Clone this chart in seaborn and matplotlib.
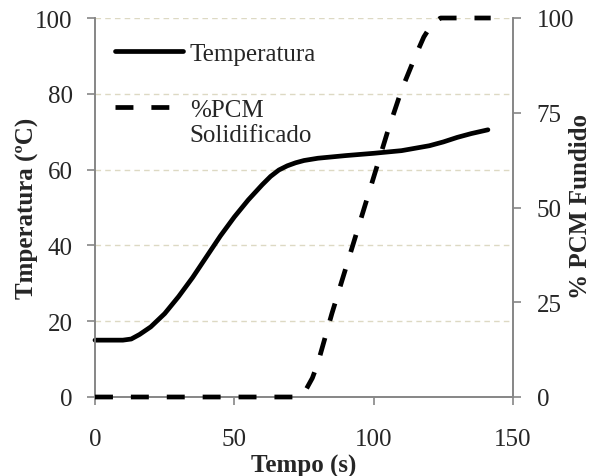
import numpy as np
import pandas as pd
import seaborn as sns
import matplotlib.pyplot as plt
from matplotlib.legend_handler import HandlerLine2D

# data
tempo_temp = [0, 5, 10, 13, 16, 20, 25, 30, 35, 40, 45, 50, 55, 60, 63, 66, 69, 72, 75, 80, 90, 100, 110, 120, 125, 130, 135, 141]
temperatura = [15, 15, 15, 15.3, 16.5, 18.5, 22, 26.5, 31.5, 37, 42.5, 47.5, 52, 56, 58.2, 59.9, 61.0, 61.8, 62.4, 63, 63.7, 64.3, 65, 66.3, 67.3, 68.5, 69.5, 70.5]

tempo_pcm = [0, 72, 75, 78, 80, 85, 90, 95, 100, 105, 110, 115, 118, 121, 124, 127, 142]
pcm = [0, 0, 1, 5, 9, 22, 34, 46, 58, 70, 81, 90, 95, 98.5, 100, 100, 100]

left_ticks = [0, 20, 40, 60, 80, 100]
right_ticks = [0, 25, 50, 75, 100]
x_ticks = [0, 50, 100, 150]


class RaisedLine(HandlerLine2D):
    # put the legend line next to the first line of a two-line label
    def __init__(self, dy, **kw):
        super().__init__(**kw)
        self.dy = dy

    def create_artists(self, legend, orig_handle, xdescent, ydescent, width,
                       height, fontsize, trans):
        return super().create_artists(legend, orig_handle, xdescent,
                                      ydescent - 2 * self.dy, width, height,
                                      fontsize, trans)


sns.set_style("white")
plt.rcParams['font.family'] = ['Liberation Serif', 'DejaVu Serif']

spine_col = '#868686'
grid_col = '#ddd9c3'
fs = 18

fig = plt.figure(figsize=(5.91, 4.77), dpi=100)
ax = fig.add_axes([95/591, 79/477, 418/591, 379/477])
ax2 = ax.twinx()

df_t = pd.DataFrame({'Tempo': tempo_temp, 'Temp': temperatura})
df_p = pd.DataFrame({'Tempo': tempo_pcm, 'PCM': pcm})

sns.lineplot(data=df_t, x='Tempo', y='Temp', ax=ax, color='black', lw=3.4,
             label='Temperatura', legend=False, clip_on=False, zorder=5)
sns.lineplot(data=df_p, x='Tempo', y='PCM', ax=ax2, color='black', lw=3.4,
             linestyle=(0, (3.8, 3.8)), label='%PCM\nSolidificado', legend=False,
             clip_on=False, zorder=5)

ax.set_xlim(0, 150)
ax.set_ylim(0, 100)
ax2.set_ylim(0, 100)
ax.set_xticks(x_ticks)
ax.set_yticks(left_ticks)
ax2.set_yticks(right_ticks)

# grid from the left axis only
for v in left_ticks[1:]:
    ax.axhline(v, color=grid_col, lw=1, ls=(0, (4, 3)), zorder=0)

for a in (ax, ax2):
    for s in a.spines.values():
        s.set_color(spine_col)
        s.set_linewidth(1.2)
    a.spines['top'].set_visible(False)

ax.tick_params(axis='x', direction='out', length=6, width=1.2, color=spine_col,
               labelsize=fs, pad=16, bottom=True)
ax.tick_params(axis='y', direction='out', length=6, width=1.2, color=spine_col,
               labelsize=fs, pad=10, left=True)
ax2.tick_params(axis='y', direction='out', length=6, width=1.2, color=spine_col,
                labelsize=fs, pad=11, right=True)

ax.set_xlabel('Tempo (s)', fontsize=fs, fontweight='bold', labelpad=3)
ax.set_ylabel('Tmperatura (ºC)', fontsize=fs, fontweight='bold')
ax.yaxis.set_label_coords(-0.133, 0.5)
ax2.set_ylabel('% PCM Fundido', fontsize=fs, fontweight='bold', rotation=90)
ax2.yaxis.set_label_coords(1.133, 0.505)

h1, l1 = ax.get_legend_handles_labels()
h2, l2 = ax2.get_legend_handles_labels()
ax.legend(h1 + h2, l1 + l2, loc='upper left', bbox_to_anchor=(0.047, 0.935),
          frameon=False, fontsize=fs, handlelength=2.75, handletextpad=0.25,
          labelspacing=1.35, borderpad=0, borderaxespad=0,
          handler_map={h2[0]: RaisedLine(0.6 * fs)})

fig.savefig('out.png', dpi=100)
